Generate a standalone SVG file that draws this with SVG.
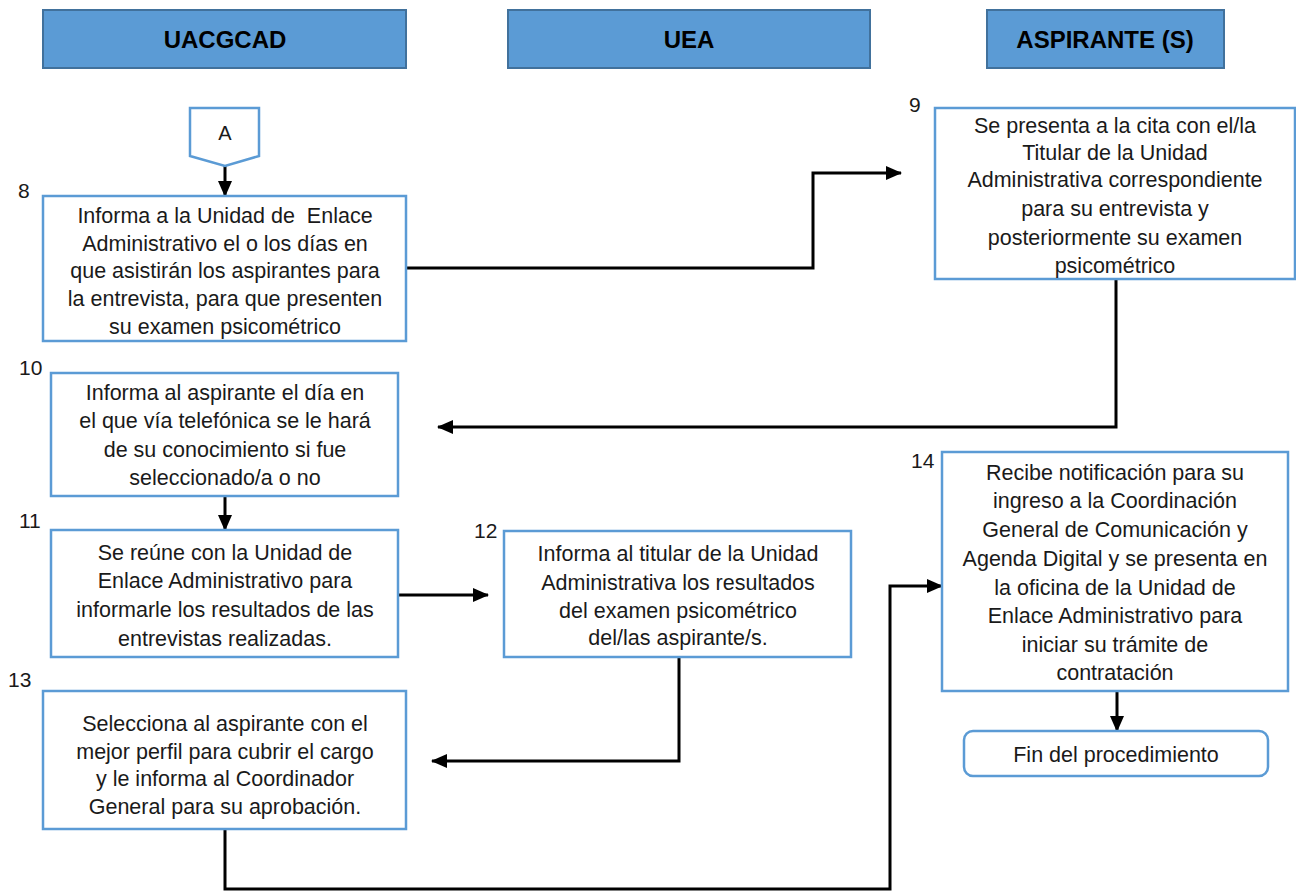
<svg xmlns="http://www.w3.org/2000/svg" width="1296" height="893" viewBox="0 0 1296 893">
  <defs>
    <marker id="arrow" markerUnits="userSpaceOnUse" markerWidth="16" markerHeight="14" refX="15" refY="7" orient="auto">
      <path d="M0,0 L16,7 L0,14 Z" fill="#000"/>
    </marker>
    <style>
      .lane { fill: #5B9BD5; stroke: #41719C; stroke-width: 2; }
      .lane-text { font-family: "Liberation Sans", Arial, sans-serif; font-size: 24px; font-weight: bold; fill: #000; text-anchor: middle; }
      .box { fill: #fff; stroke: #5B9BD5; stroke-width: 2.5; }
      .txt { font-family: "Liberation Sans", Arial, sans-serif; font-size: 21.5px; fill: #1a1a1a; text-anchor: middle; }
      .num { font-family: "Liberation Sans", Arial, sans-serif; font-size: 21px; fill: #1a1a1a; }
      .conn { fill: none; stroke: #000; stroke-width: 3; }
    </style>
  </defs>
  <rect width="1296" height="893" fill="#fff"/>

  <!-- swimlane headers -->
  <g id="lane-uacgcad">
    <rect class="lane" x="43" y="10" width="363" height="58"/>
    <text class="lane-text" x="225" y="48">UACGCAD</text>
  </g>
  <g id="lane-uea">
    <rect class="lane" x="508" y="10" width="362" height="58"/>
    <text class="lane-text" x="689" y="48">UEA</text>
  </g>
  <g id="lane-aspirante">
    <rect class="lane" x="987" y="10" width="237" height="58"/>
    <text class="lane-text" x="1105" y="48">ASPIRANTE (S)</text>
  </g>

  <!-- connectors -->
  <g id="connectors">
    <path class="conn" d="M225,166 L225,196" marker-end="url(#arrow)"/>
    <path class="conn" d="M406,268 L813,268 L813,173 L901,173" marker-end="url(#arrow)"/>
    <path class="conn" d="M1116,279 L1116,427 L438,427" marker-end="url(#arrow)"/>
    <path class="conn" d="M225,496 L225,530" marker-end="url(#arrow)"/>
    <path class="conn" d="M398,595 L488,595" marker-end="url(#arrow)"/>
    <path class="conn" d="M679,657 L679,761 L432,761" marker-end="url(#arrow)"/>
    <path class="conn" d="M225,829 L225,889 L890,889 L890,586 L942,586" marker-end="url(#arrow)"/>
    <path class="conn" d="M1117,691 L1117,731" marker-end="url(#arrow)"/>
  </g>

  <!-- off-page connector A -->
  <g id="node-a">
    <path class="box" d="M190,108 L259,108 L259,156 L225,166 L190,156 Z"/>
    <text class="txt" x="225" y="140" style="font-size:20px">A</text>
  </g>

  <!-- step 8 -->
  <g id="step-8">
    <text class="num" x="18" y="198">8</text>
    <rect class="box" x="43" y="196" width="363" height="145"/>
    <text class="txt" x="225" y="223" xml:space="preserve">Informa a la Unidad de  Enlace</text>
    <text class="txt" x="225" y="251">Administrativo el o los días en</text>
    <text class="txt" x="225" y="278">que asistirán los aspirantes para</text>
    <text class="txt" x="225" y="306">la entrevista, para que presenten</text>
    <text class="txt" x="225" y="334">su examen psicométrico</text>
  </g>

  <!-- step 9 -->
  <g id="step-9">
    <text class="num" x="909" y="112">9</text>
    <rect class="box" x="935" y="108" width="360" height="171"/>
    <text class="txt" x="1115" y="133">Se presenta a la cita con el/la</text>
    <text class="txt" x="1115" y="160">Titular de la Unidad</text>
    <text class="txt" x="1115" y="187">Administrativa correspondiente</text>
    <text class="txt" x="1115" y="216">para su entrevista y</text>
    <text class="txt" x="1115" y="245">posteriormente su examen</text>
    <text class="txt" x="1115" y="273">psicométrico</text>
  </g>

  <!-- step 10 -->
  <g id="step-10">
    <text class="num" x="19" y="375">10</text>
    <rect class="box" x="51" y="373" width="347" height="123"/>
    <text class="txt" x="225" y="400">Informa al aspirante el día en</text>
    <text class="txt" x="225" y="428">el que vía telefónica se le hará</text>
    <text class="txt" x="225" y="457">de su conocimiento si fue</text>
    <text class="txt" x="225" y="485">seleccionado/a o no</text>
  </g>

  <!-- step 11 -->
  <g id="step-11">
    <text class="num" x="19" y="528">11</text>
    <rect class="box" x="51" y="530" width="347" height="127"/>
    <text class="txt" x="225" y="560">Se reúne con la Unidad de</text>
    <text class="txt" x="225" y="588">Enlace Administrativo para</text>
    <text class="txt" x="225" y="617">informarle los resultados de las</text>
    <text class="txt" x="225" y="646">entrevistas realizadas.</text>
  </g>

  <!-- step 12 -->
  <g id="step-12">
    <text class="num" x="474" y="538">12</text>
    <rect class="box" x="504" y="531" width="347" height="126"/>
    <text class="txt" x="678" y="561">Informa al titular de la Unidad</text>
    <text class="txt" x="678" y="590">Administrativa los resultados</text>
    <text class="txt" x="678" y="618">del examen psicométrico</text>
    <text class="txt" x="678" y="645">del/las aspirante/s.</text>
  </g>

  <!-- step 13 -->
  <g id="step-13">
    <text class="num" x="8" y="687">13</text>
    <rect class="box" x="43" y="691" width="363" height="138"/>
    <text class="txt" x="225" y="731">Selecciona al aspirante con el</text>
    <text class="txt" x="225" y="759">mejor perfil para cubrir el cargo</text>
    <text class="txt" x="225" y="786">y le informa al Coordinador</text>
    <text class="txt" x="225" y="814">General para su aprobación.</text>
  </g>

  <!-- step 14 -->
  <g id="step-14">
    <text class="num" x="911" y="468">14</text>
    <rect class="box" x="942" y="452" width="346" height="239"/>
    <text class="txt" x="1115" y="480">Recibe notificación para su</text>
    <text class="txt" x="1115" y="508">ingreso a la Coordinación</text>
    <text class="txt" x="1115" y="537">General de Comunicación y</text>
    <text class="txt" x="1115" y="566">Agenda Digital y se presenta en</text>
    <text class="txt" x="1115" y="595">la oficina de la Unidad de</text>
    <text class="txt" x="1115" y="623">Enlace Administrativo para</text>
    <text class="txt" x="1115" y="652">iniciar su trámite de</text>
    <text class="txt" x="1115" y="680">contratación</text>
  </g>

  <!-- end terminator -->
  <g id="end">
    <rect class="box" x="964" y="731" width="304" height="45" rx="9" ry="9"/>
    <text class="txt" x="1116" y="762">Fin del procedimiento</text>
  </g>
</svg>
